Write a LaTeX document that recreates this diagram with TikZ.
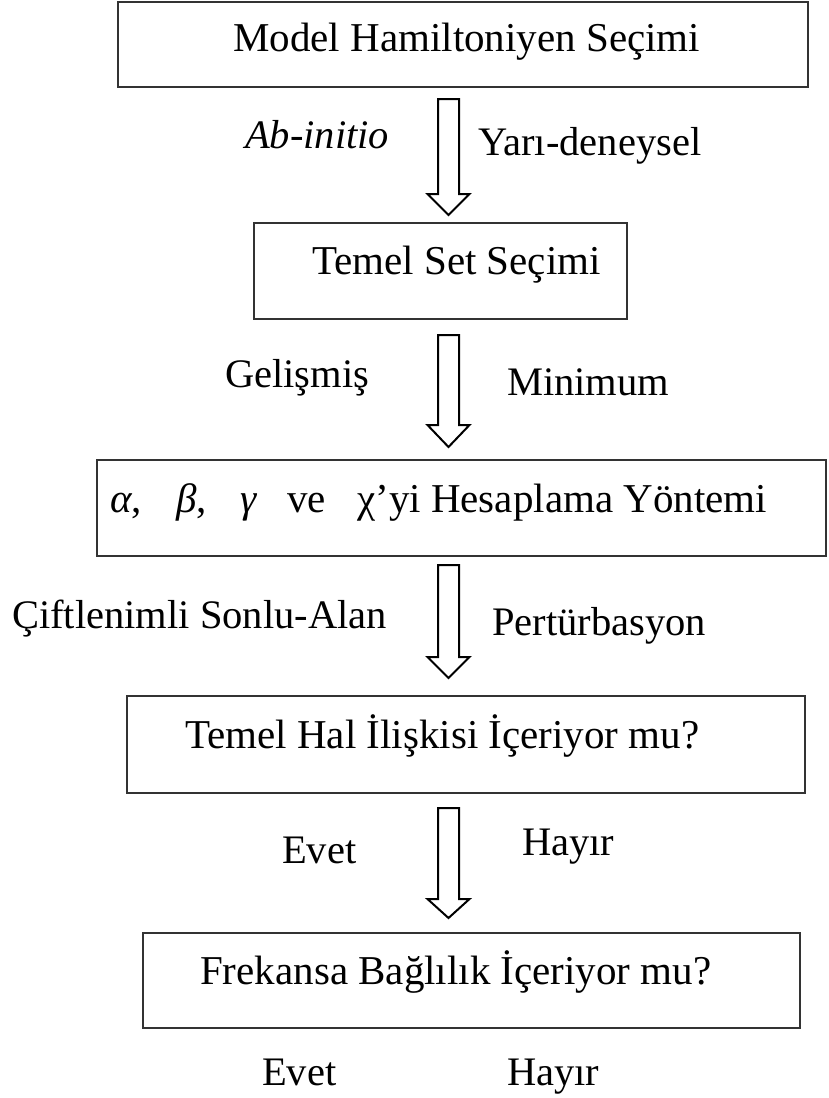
\documentclass[tikz,border=0pt]{standalone}
\usepackage{fontspec}
\setmainfont{Liberation Serif}
\begin{document}
\begin{tikzpicture}[x=1pt,y=-1pt,
  box/.style={draw=black!80, line width=1.6pt, fill=none},
  btext/.style={anchor=base west, inner sep=0pt, font=\fontsize{41}{46}\selectfont},
  lbl/.style={anchor=base west, inner sep=0pt, font=\fontsize{40.5}{46}\selectfont},
  fat/.style={draw=black, line width=2pt, fill=white, line join=miter}]
\useasboundingbox (0,0) rectangle (828,1098);
% boxes
\draw[box] (118,2) rectangle (808,87);
\draw[box] (254,223) rectangle (627,319);
\draw[box] (97,460) rectangle (826,556);
\draw[box] (127,696) rectangle (805,793);
\draw[box] (143,933) rectangle (800,1028);
% box texts
\node[btext] (t1) at (233,51) {Model Hamiltoniyen Seçimi};
\node[btext] (t2) at (312,274) {Temel Set Seçimi};
\node[btext] (t3) at (110,512) {\makebox[66pt][l]{{\itshape α},}\makebox[64pt][l]{{\itshape β},}\makebox[47pt][l]{{\itshape γ}}\makebox[70pt][l]{ve}χ’yi Hesaplama Yöntemi};
\node[btext] (t4) at (185,748) {Temel Hal İlişkisi İçeriyor mu?};
\node[btext] (t5) at (200,984) {Frekansa Bağlılık İçeriyor mu?};
% fat arrows
\newcommand{\fatarrow}[4]{%
  \draw[fat] (#1-10.5,#2) -- (#1+10.5,#2) -- (#1+10.5,#3) -- (#1+21,#3) -- (#1,#4)
    -- (#1-21,#3) -- (#1-10.5,#3) -- cycle;}
\fatarrow{448.5}{99}{194}{215}
\fatarrow{448.5}{335}{425}{447}
\fatarrow{448.5}{565}{657}{678}
\fatarrow{448.5}{808}{899}{918}
% labels
\node[lbl] (l1) at (245,148) {\itshape Ab-initio};
\node[lbl] (l2) at (478,155) {Yarı-deneysel};
\node[lbl] (l3) at (225,387) {Gelişmiş};
\node[lbl] (l4) at (507,395) {Minimum};
\node[lbl] (l5) at (12,628) {Çiftlenimli Sonlu-Alan};
\node[lbl] (l6) at (492,635) {Pertürbasyon};
\node[lbl] (l7) at (282,863) {Evet};
\node[lbl] (l8) at (522,855) {Hayır};
\node[lbl] (l9) at (262,1085) {Evet};
\node[lbl] (l10) at (507,1085) {Hayır};
\end{tikzpicture}
\end{document}
